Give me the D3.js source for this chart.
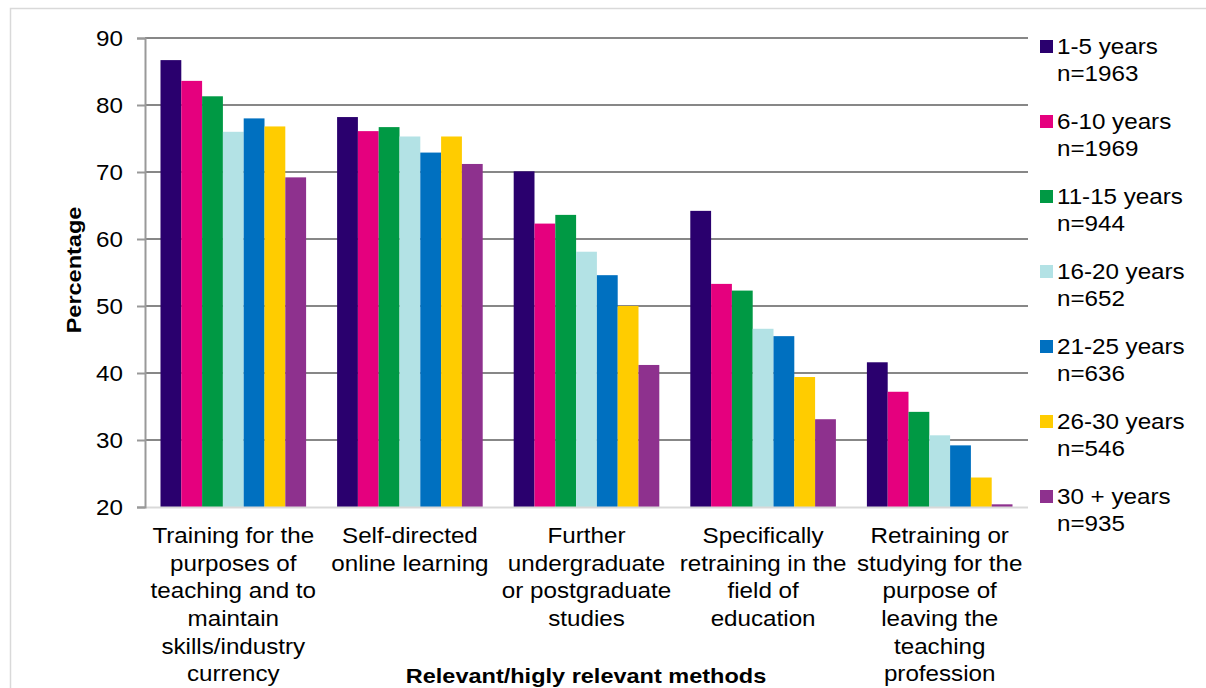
<!DOCTYPE html>
<html>
<head>
<meta charset="utf-8">
<script src="https://cdn.jsdelivr.net/npm/d3@7"></script>
<style>
  body { margin: 0; background: #fff; }
  svg { display: block; font-family: "Liberation Sans", Arial, sans-serif; }
</style>
</head>
<body>
<div id="chart"></div>
<script>
const categories = [
  ['Training for the', 'purposes of', 'teaching and to', 'maintain', 'skills/industry', 'currency'],
  ['Self-directed', 'online learning'],
  ['Further', 'undergraduate', 'or postgraduate', 'studies'],
  ['Specifically', 'retraining in the', 'field of', 'education'],
  ['Retraining or', 'studying for the', 'purpose of', 'leaving the', 'teaching', 'profession']
];
const seriesNames = ['1-5 years', '6-10 years', '11-15 years', '16-20 years', '21-25 years', '26-30 years', '30 + years'];
const seriesN = ['n=1963', 'n=1969', 'n=944', 'n=652', 'n=636', 'n=546', 'n=935'];
const colors = ['#2a006e', '#e5007e', '#009944', '#b3e2e5', '#0070c0', '#ffcc00', '#8e318e'];
// values per series, one per category
const values = [
  [86.7, 78.2, 70.1, 64.2, 41.6],
  [83.6, 76.1, 62.3, 53.3, 37.2],
  [81.3, 76.7, 63.6, 52.3, 34.2],
  [76.0, 75.3, 58.1, 46.6, 30.7],
  [78.0, 72.9, 54.6, 45.5, 29.2],
  [76.8, 75.3, 50.0, 39.4, 24.4],
  [69.2, 71.2, 41.2, 33.1, 20.4]
];
const yTicks = [20, 30, 40, 50, 60, 70, 80, 90];

const W = 1206, H = 688;
const plot = { left: 145, right: 1028, top: 38, bottom: 507 };
const sx = 1.1; // the original text is drawn a little wider than Arial

const svg = d3.select('#chart').append('svg')
  .attr('width', W).attr('height', H);

// outer frame
svg.append('rect')
  .attr('x', 10.5).attr('y', 8.5)
  .attr('width', W).attr('height', H)
  .attr('fill', 'none').attr('stroke', '#d9d9d9').attr('stroke-width', 1.5);

const x0 = d3.scaleBand()
  .domain(d3.range(categories.length))
  .range([plot.left, plot.right])
  .padding(0);

const x1 = d3.scaleBand()
  .domain(d3.range(seriesNames.length))
  .range([0, x0.bandwidth()])
  .paddingInner(0)
  .paddingOuter(0.745);

const y = d3.scaleLinear()
  .domain([20, 90])
  .range([plot.bottom, plot.top]);

// gridlines
svg.append('g')
  .selectAll('line')
  .data(yTicks.filter(d => d > 20))
  .join('line')
  .attr('x1', plot.left).attr('x2', plot.right)
  .attr('y1', d => y(d)).attr('y2', d => y(d))
  .attr('stroke', '#878787').attr('stroke-width', 2);

// bars
const groups = svg.append('g')
  .selectAll('g')
  .data(categories.map((c, i) => i))
  .join('g')
  .attr('transform', i => `translate(${x0(i)},0)`);

groups.selectAll('rect')
  .data(ci => values.map((s, si) => ({ si, v: s[ci] })))
  .join('rect')
  .attr('x', d => x1(d.si))
  .attr('y', d => y(d.v))
  .attr('width', x1.bandwidth())
  .attr('height', d => y(20) - y(d.v))
  .attr('fill', d => colors[d.si]);

// x baseline
svg.append('line')
  .attr('x1', plot.left).attr('x2', plot.right)
  .attr('y1', plot.bottom + 0.5).attr('y2', plot.bottom + 0.5)
  .attr('stroke', '#d9d9d9').attr('stroke-width', 2);

// y axis
const yAxis = svg.append('g')
  .attr('transform', `translate(${plot.left},0)`)
  .call(d3.axisLeft(y).tickValues(yTicks).tickSize(8).tickPadding(14));
yAxis.select('.domain').attr('stroke', '#999').attr('stroke-width', 2);
yAxis.selectAll('.tick line').attr('stroke', '#999').attr('stroke-width', 2);
yAxis.selectAll('.tick text')
  .attr('font-size', 22).attr('fill', '#000')
  .attr('font-family', '"Liberation Sans", Arial, sans-serif')
  .attr('transform', `translate(-22,0) scale(${sx},1)`)
  .attr('x', 0);

// category labels
const catG = svg.append('g');
categories.forEach((lines, i) => {
  const t = catG.append('text')
    .attr('transform', `translate(${x0(i) + x0.bandwidth() / 2},543) scale(${sx},1)`)
    .attr('text-anchor', 'middle')
    .attr('font-size', 22)
    .attr('fill', '#000');
  lines.forEach((l, j) => {
    t.append('tspan')
      .attr('x', 0)
      .attr('dy', j === 0 ? 0 : 27.7)
      .text(l);
  });
});

// axis titles
svg.append('text')
  .attr('transform', `translate(586,683) scale(1.12,1)`)
  .attr('text-anchor', 'middle')
  .attr('font-size', 21).attr('font-weight', 'bold')
  .text('Relevant/higly relevant methods');

svg.append('text')
  .attr('transform', 'translate(81,270) rotate(-90) scale(1.12,1)')
  .attr('text-anchor', 'middle')
  .attr('font-size', 21).attr('font-weight', 'bold')
  .text('Percentage');

// legend
const legend = svg.append('g')
  .selectAll('g')
  .data(seriesNames)
  .join('g')
  .attr('transform', (d, i) => `translate(1040,${40 + i * 75})`);

legend.append('rect')
  .attr('width', 13).attr('height', 13)
  .attr('fill', (d, i) => colors[i]);

legend.append('text')
  .attr('transform', `translate(17,14) scale(${sx},1)`)
  .attr('font-size', 22)
  .text(d => d);

legend.append('text')
  .attr('transform', `translate(17,41) scale(${sx},1)`)
  .attr('font-size', 22)
  .text((d, i) => seriesN[i]);
</script>
</body>
</html>
